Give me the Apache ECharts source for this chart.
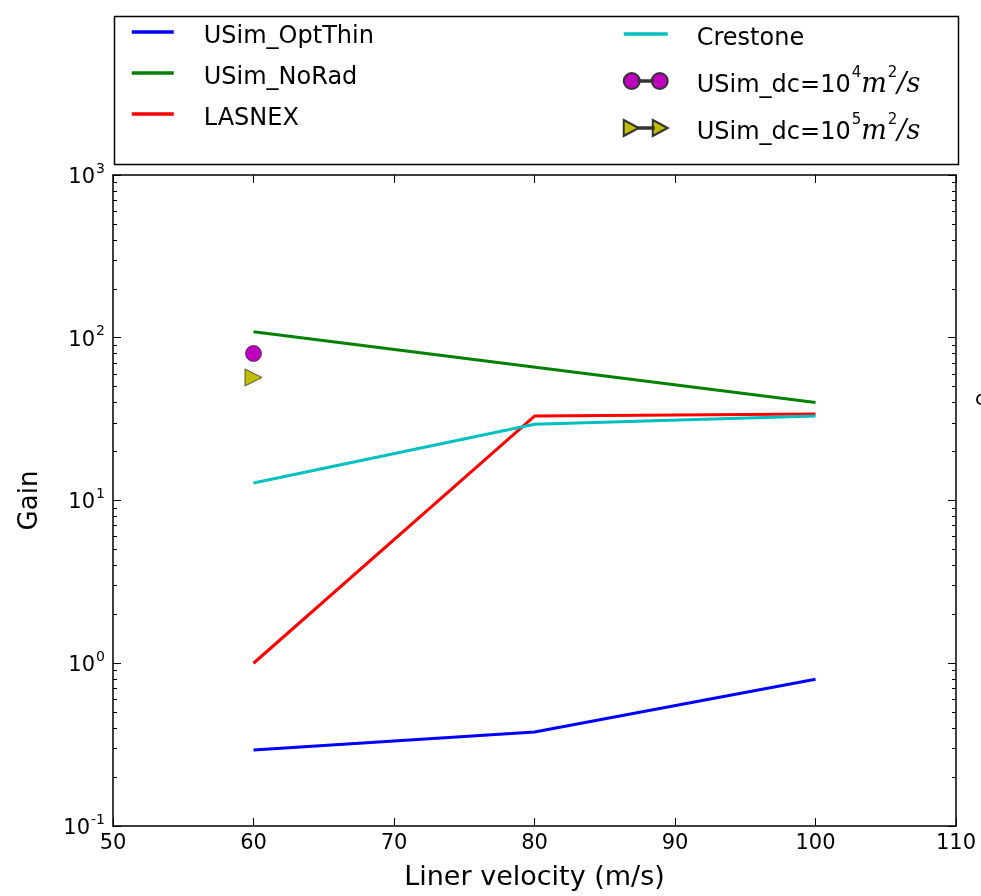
<!DOCTYPE html>
<html>
<head>
<meta charset="utf-8">
<script src="https://cdn.jsdelivr.net/npm/echarts@6/dist/echarts.min.js"></script>
<style>
  html, body { margin: 0; padding: 0; background: #fff; }
  #chart { width: 981px; height: 896px; }
</style>
</head>
<body>
<div id="chart"></div>
<script>
// data
const xTicks = [50, 60, 70, 80, 90, 100, 110];
const yTicks = [0.1, 1, 10, 100, 1000];
const optThin = [[60, 0.293], [80, 0.378], [100, 0.797]];
const noRad = [[60, 109], [100, 40]];
const lasnex = [[60, 1.0], [80, 33], [100, 34]];
const crestone = [[60, 12.8], [80, 29.4], [100, 33]];
const dc1e4 = [[60, 80]];
const dc1e5 = [[60, 57]];

// minor ticks for the log axis (2..9 per decade)
const minorTicks = [];
for (let e = -1; e < 3; e++) {
    for (let k = 2; k <= 9; k++) minorTicks.push(+(k * Math.pow(10, e)).toPrecision(3));
}

const FONT = 'DejaVu Sans';
const chart = echarts.init(document.getElementById('chart'));

const supLabel = (v) => {
    const e = Math.round(Math.log10(v));
    return '{b|10}{s|' + e + '}';
};
const tickRich = {
    b: { fontSize: 21, fontFamily: FONT, color: '#000', lineHeight: 26, verticalAlign: 'bottom' },
    s: { fontSize: 14, fontFamily: FONT, color: '#000', lineHeight: 26, verticalAlign: 'top', padding: [0, 0, 0, 1] }
};

const legendRich = {
    t: { fontSize: 24, fontFamily: FONT, color: '#000', lineHeight: 34, verticalAlign: 'bottom' },
    s: { fontSize: 15, fontFamily: FONT, color: '#000', lineHeight: 34, verticalAlign: 'top', padding: [2, 0, 0, 1] },
    i: { fontSize: 27, fontFamily: 'DejaVu Serif', fontStyle: 'italic', color: '#000', lineHeight: 34, verticalAlign: 'bottom' }
};
const legendName = (name) => {
    const m = name.match(/^USim_dc=10\^(\d)m\^2\/s$/);
    if (!m) return '{t|' + name + '}';
    return '{t|USim_dc=10}{s|' + m[1] + '}{i|m}{s|2}{i|/s}';
};

const axisBase = {
    type: 'value',
    min: 50,
    max: 110,
    interval: 10,
    splitLine: { show: false },
    axisLine: { lineStyle: { color: '#000', width: 1.5 } },
    axisTick: { inside: true, length: 8, lineStyle: { color: '#000', width: 1 } }
};
const logBase = {
    type: 'log',
    logBase: 10,
    min: 0.1,
    max: 1000,
    splitLine: { show: false },
    minorSplitLine: { show: false }
};

const lineSeries = (name, data, color) => ({
    name: name,
    type: 'line',
    data: data,
    symbol: 'none',
    lineStyle: { color: color, width: 3 },
    itemStyle: { color: color },
    z: 3
});

const lineItem = (name) => ({ name: name, itemStyle: { opacity: 0 }, lineStyle: { width: 3.5 } });

const option = {
    backgroundColor: '#fff',
    animation: false,
    grid: { left: 113, right: 25, top: 175, bottom: 68 },
    xAxis: [
        Object.assign({}, axisBase, {
            position: 'bottom',
            name: 'Liner velocity (m/s)',
            nameLocation: 'middle',
            nameGap: 38,
            nameTextStyle: { fontSize: 27, fontFamily: FONT, color: '#000' },
            axisLabel: { fontSize: 21, fontFamily: FONT, color: '#000', margin: 7 }
        }),
        Object.assign({}, axisBase, {
            position: 'top',
            axisLabel: { show: false }
        })
    ],
    yAxis: [
        Object.assign({}, logBase, {
            position: 'left',
            name: 'Gain',
            nameLocation: 'middle',
            nameGap: 70,
            nameTextStyle: { fontSize: 26, fontFamily: FONT, color: '#000' },
            axisLine: { lineStyle: { color: '#000', width: 1.5 } },
            axisTick: { inside: true, length: 8, customValues: yTicks, lineStyle: { color: '#000' } },
            axisLabel: { customValues: yTicks, formatter: supLabel, rich: tickRich, margin: 8 }
        }),
        Object.assign({}, logBase, {
            position: 'left',
            axisLine: { show: false },
            axisTick: { inside: true, length: 4, customValues: minorTicks, lineStyle: { color: '#000' } },
            axisLabel: { show: false }
        }),
        Object.assign({}, logBase, {
            position: 'right',
            axisLine: { lineStyle: { color: '#000', width: 1.5 } },
            axisTick: { inside: true, length: 8, customValues: yTicks, lineStyle: { color: '#000' } },
            axisLabel: { show: false }
        }),
        Object.assign({}, logBase, {
            position: 'right',
            axisLine: { show: false },
            axisTick: { inside: true, length: 4, customValues: minorTicks, lineStyle: { color: '#000' } },
            axisLabel: { show: false }
        })
    ],
    legend: [
        {
            left: 130,
            top: 25,
            orient: 'vertical',
            padding: 0,
            itemWidth: 42,
            itemHeight: 16,
            itemGap: 17,
            selectedMode: false,
            textStyle: { padding: [0, 0, 0, 25], rich: legendRich },
            formatter: legendName,
            data: [lineItem('USim_OptThin'), lineItem('USim_NoRad'), lineItem('LASNEX')]
        },
        {
            left: 622,
            top: 27,
            orient: 'vertical',
            padding: 0,
            itemWidth: 44,
            itemHeight: 16,
            itemGap: 13,
            selectedMode: false,
            textStyle: { padding: [0, 0, 0, 24], rich: legendRich },
            formatter: legendName,
            data: [
                lineItem('Crestone'),
                {
                    name: 'USim_dc=10^4m^2/s',
                    icon: 'path://M0,8a8,8 0 1,0 16,0a8,8 0 1,0 -16,0ZM15,7.2L29,7.2L29,8.8L15,8.8ZM28,8a8,8 0 1,0 16,0a8,8 0 1,0 -16,0Z'
                },
                {
                    name: 'USim_dc=10^5m^2/s',
                    icon: 'path://M0,0L15,8L0,16ZM14,7.2L30,7.2L30,8.8L14,8.8ZM29,0L44,8L29,16Z'
                }
            ]
        }
    ],
    graphic: [
        {
            type: 'rect',
            left: 112,
            top: 14,
            shape: { width: 844, height: 148 },
            style: { fill: 'none', stroke: '#000', lineWidth: 1.5 }
        },
        {
            type: 'text',
            left: 975,
            top: 390,
            style: { text: 'c', fontSize: 20, fontFamily: FONT, fill: '#000' }
        }
    ],
    series: [
        lineSeries('USim_OptThin', optThin, '#0000ff'),
        lineSeries('USim_NoRad', noRad, '#008000'),
        lineSeries('LASNEX', lasnex, '#ff0000'),
        lineSeries('Crestone', crestone, '#00bfbf'),
        {
            name: 'USim_dc=10^4m^2/s',
            type: 'line',
            data: dc1e4,
            symbol: 'circle',
            symbolSize: 16,
            lineStyle: { color: '#bf00bf', width: 1.5 },
            itemStyle: { color: '#bf00bf', borderColor: '#333', borderWidth: 0.8 },
            z: 4
        },
        {
            name: 'USim_dc=10^5m^2/s',
            type: 'line',
            data: dc1e5,
            symbol: 'triangle',
            symbolRotate: -90,
            symbolSize: 17,
            lineStyle: { color: '#bfbf00', width: 1.5 },
            itemStyle: { color: '#bfbf00', borderColor: '#333', borderWidth: 0.8 },
            z: 4
        }
    ]
};

chart.setOption(option);
</script>
</body>
</html>
